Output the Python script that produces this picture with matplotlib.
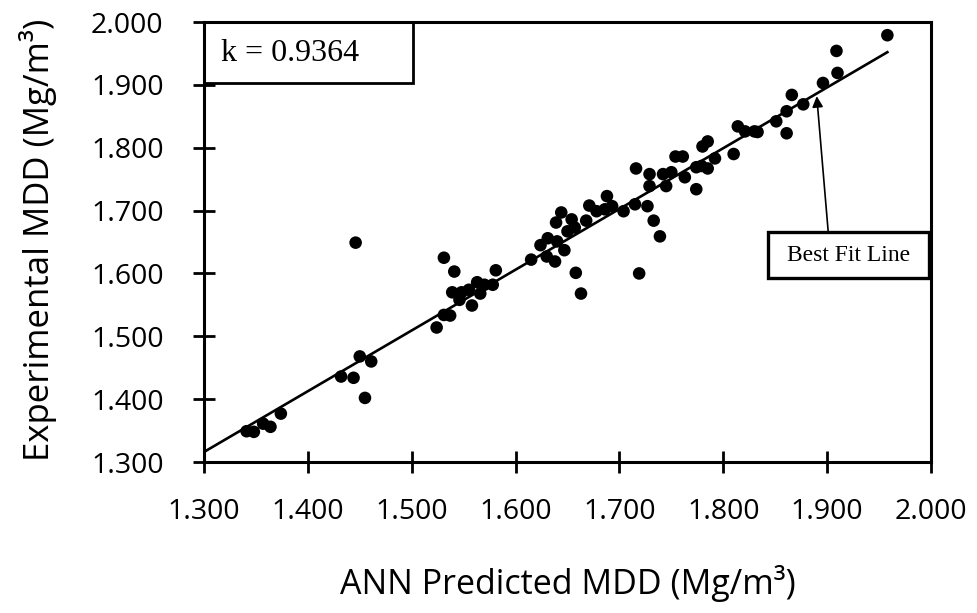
import matplotlib
matplotlib.use("Agg")
import matplotlib.pyplot as plt
from matplotlib.patches import Rectangle

# ANN predicted vs experimental MDD (Mg/m3)
predicted = [1.341, 1.348, 1.357, 1.364, 1.374, 1.432, 1.444, 1.450, 1.461, 1.455,
             1.446, 1.524, 1.531, 1.537, 1.531, 1.541, 1.539, 1.548, 1.546, 1.555,
             1.558, 1.563, 1.566, 1.570, 1.578, 1.581, 1.615, 1.624, 1.631, 1.630,
             1.638, 1.640, 1.647, 1.658, 1.663, 1.650, 1.688, 1.693, 1.686, 1.704,
             1.715, 1.727, 1.733, 1.739, 1.719, 1.716, 1.729, 1.729, 1.742, 1.745,
             1.750, 1.754, 1.761, 1.763, 1.774, 1.774, 1.779, 1.785, 1.792, 1.780,
             1.785, 1.810, 1.814, 1.821, 1.830, 1.833, 1.851, 1.861, 1.866, 1.861,
             1.877, 1.896, 1.909, 1.910, 1.958, 1.639, 1.644, 1.654, 1.657, 1.668,
             1.671, 1.678]
experimental = [1.349, 1.348, 1.361, 1.356, 1.377, 1.436, 1.434, 1.468, 1.460, 1.402,
                1.649, 1.514, 1.534, 1.533, 1.625, 1.603, 1.570, 1.570, 1.558, 1.574,
                1.549, 1.586, 1.568, 1.582, 1.582, 1.605, 1.622, 1.645, 1.656, 1.627,
                1.619, 1.651, 1.637, 1.601, 1.568, 1.667, 1.723, 1.707, 1.702, 1.699,
                1.710, 1.707, 1.684, 1.659, 1.600, 1.767, 1.758, 1.739, 1.758, 1.739,
                1.761, 1.786, 1.786, 1.753, 1.734, 1.769, 1.771, 1.767, 1.783, 1.802,
                1.810, 1.790, 1.834, 1.826, 1.826, 1.825, 1.842, 1.858, 1.884, 1.823,
                1.869, 1.903, 1.954, 1.919, 1.979, 1.681, 1.697, 1.686, 1.673, 1.684,
                1.708, 1.699]

# best fit line end points and arrow (tail -> tip)
fit_x = [1.300, 1.958]
fit_y = [1.316, 1.952]
arrow_x = [1.901, 1.890]
arrow_y = [1.667, 1.882]

ticks = [1.3, 1.4, 1.5, 1.6, 1.7, 1.8, 1.9, 2.0]
tick_labels = ["1.300", "1.400", "1.500", "1.600", "1.700", "1.800", "1.900", "2.000"]

sans = ["Open Sans", "DejaVu Sans"]
serif = ["Liberation Serif", "DejaVu Serif"]

fig = plt.figure(figsize=(9.77, 6.13), dpi=100)
ax = fig.add_axes([0.2088, 0.2463, 0.7441, 0.7178])

ax.scatter(predicted, experimental, s=82, color="black", edgecolors="none", zorder=3)
ax.plot(fit_x, fit_y, color="black", lw=1.9, zorder=2)
ax.annotate("", xy=(arrow_x[1], arrow_y[1]), xytext=(arrow_x[0], arrow_y[0]),
            arrowprops=dict(arrowstyle="-|>", color="black", lw=1.2,
                            mutation_scale=16, shrinkA=0, shrinkB=0))

ax.set_xlim(1.3, 2.0)
ax.set_ylim(1.3, 2.0)
ax.set_xticks(ticks)
ax.set_xticklabels(tick_labels, family=sans, fontsize=20.5)
ax.set_yticks(ticks)
ax.set_yticklabels(tick_labels, family=sans, fontsize=20.5)
ax.tick_params(direction="inout", length=16, width=2, colors="black")
ax.tick_params(axis="x", pad=18)
ax.tick_params(axis="y", pad=21)

for s in ax.spines.values():
    s.set_linewidth(2.2)
    s.set_color("black")

ax.set_xlabel("ANN Predicted MDD (Mg/m³)", family=sans, fontsize=24.5, va="center")
ax.xaxis.set_label_coords(0.5, -0.275)
ax.set_ylabel("Experimental MDD (Mg/m³)", family=sans, fontsize=25, va="center")
ax.yaxis.set_label_coords(-0.228, 0.505)

# k box in the top-left corner
ax.add_patch(Rectangle((0.0, 0.861), 0.2875, 0.139, transform=ax.transAxes,
                       fill=False, ec="black", lw=2, zorder=4, clip_on=False))
ax.text(0.023, 0.928, "k = 0.9364", transform=ax.transAxes, family=serif,
        fontsize=23, va="center", ha="left", zorder=5)

# label box for the fit line
ax.add_patch(Rectangle((0.776, 0.418), 0.221, 0.105, transform=ax.transAxes,
                       facecolor="white", ec="black", lw=2.4, zorder=4, clip_on=False))
ax.text(0.8865, 0.470, "Best Fit Line", transform=ax.transAxes, family=serif,
        fontsize=17, va="center", ha="center", zorder=5)

fig.savefig("out.png", dpi=100)
